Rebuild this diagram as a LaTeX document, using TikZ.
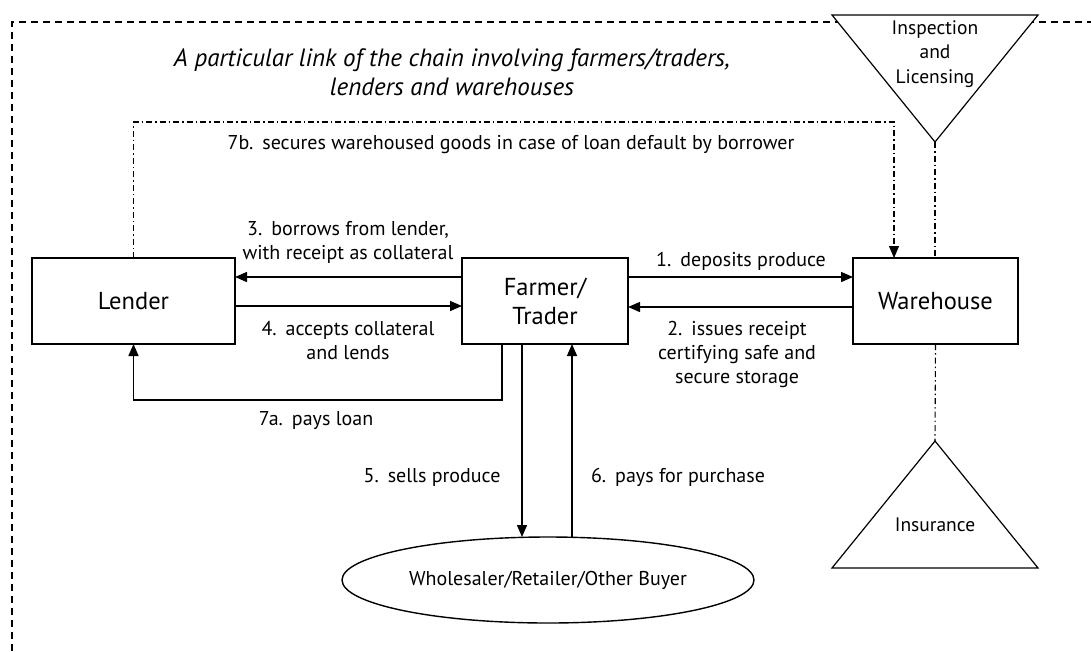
\documentclass[tikz,border=0pt]{standalone}
\usepackage{fontspec}
\setmainfont{PT Sans}
\usetikzlibrary{arrows.meta,shapes.geometric}
\newcommand{\nsp}{\hspace{0.45em}}
\begin{document}
\begin{tikzpicture}[x=1pt,y=-1pt,line width=1.4pt,
  box/.style={draw,line width=1.4pt,minimum height=86pt,inner sep=0pt,outer sep=0pt,align=center,font=\fontsize{24.5}{29}\selectfont},
  lbl/.style={align=center,inner sep=0pt,font=\fontsize{20}{24}\selectfont},
  arr/.style={-{Triangle[length=12pt,width=10pt]}},
  dd/.style={dash pattern=on 6pt off 3pt on 1.5pt off 3pt,line width=1.1pt},
  frame/.style={dash pattern=on 7pt off 5pt,line width=1.1pt}]
\useasboundingbox (0,0) rectangle (1091,651);
% outer dashed frame
\draw[frame] (12,651) -- (12,22) -- (1091,22);
% triangles
\coordinate (iL) at (832,15); \coordinate (iR) at (1038,15); \coordinate (iA) at (935,142);
\filldraw[fill=white,line width=1.2pt] (iL) -- (iR) -- (iA) -- cycle;
\node[lbl,font=\fontsize{19.5}{24.5}\selectfont] (insp) at (935,54) {Inspection\\and\\Licensing};
\coordinate (nA) at (935,441); \coordinate (nL) at (832,568); \coordinate (nR) at (1038,568);
\draw[line width=1.2pt] (nA) -- (nR) -- (nL) -- cycle;
\node[lbl,font=\fontsize{19.5}{24}\selectfont] (ins) at (935,525) {Insurance};
% title
\node[align=center,inner sep=0pt,font=\fontsize{25}{29}\selectfont\itshape] (title) at (452,72) {A particular link of the chain involving farmers/traders,\\lenders and warehouses};
% boxes
\node[box,minimum width=203pt] (lender) at (133.5,301) {Lender};
\node[box,minimum width=166pt] (farmer) at (545,301) {Farmer/\\Trader};
\node[box,minimum width=165pt] (ware) at (935.5,301) {Warehouse};
\node[draw,ellipse,line width=1.4pt,minimum width=412pt,minimum height=86pt,inner sep=0pt,outer sep=0pt,font=\fontsize{20}{24}\selectfont] (buyer) at (548,580) {Wholesaler/Retailer/Other Buyer};
% horizontal arrows
\draw[arr] ([yshift=24pt]farmer.west) -- ([yshift=24pt]lender.east);
\draw[arr] ([yshift=-5pt]lender.east) -- ([yshift=-5pt]farmer.west);
\draw[arr] ([yshift=24pt]farmer.east) -- ([yshift=24pt]ware.west);
\draw[arr] ([yshift=-6pt]ware.west) -- ([yshift=-6pt]farmer.east);
% 7a
\coordinate (f7) at ([xshift=-43pt]farmer.south);
\draw[arr] (f7) -- ++(0,56) coordinate (c7a) -| (lender.south);
% 5 and 6
\coordinate (f5) at ([xshift=-23pt]farmer.south);
\coordinate (f6) at ([xshift=27pt]farmer.south);
\draw[arr] (f5) -- (f5 |- buyer.north);
\draw[arr] (f6 |- buyer.north) -- (f6);
% 7b
\coordinate (c7b) at (894,122);
\draw[dd,arr] (lender.north) |- (c7b) -- (c7b |- ware.north);
% vertical dash-dot links
\draw[dd] (iA) -- (iA |- ware.north);
\draw[dd] (ware.south) -- (nA);
% labels
\node[lbl] (l7b) at (511,145) {7b.\nsp secures warehoused goods in case of loan default by borrower};
\node[lbl] (l3) at (348,242) {3.\nsp borrows from lender,\\with receipt as collateral};
\node[lbl] (l4) at (348,341) {4.\nsp accepts collateral\\and lends};
\node[lbl] (l1) at (741,261) {1.\nsp deposits produce};
\node[lbl] (l2) at (737,354) {2.\nsp issues receipt\\certifying safe and\\secure storage};
\node[lbl] (l7a) at (316,421) {7a.\nsp pays loan};
\node[lbl] (l5) at (432,477) {5.\nsp sells produce};
\node[lbl] (l6) at (678,477) {6.\nsp pays for purchase};
\end{tikzpicture}
\end{document}
